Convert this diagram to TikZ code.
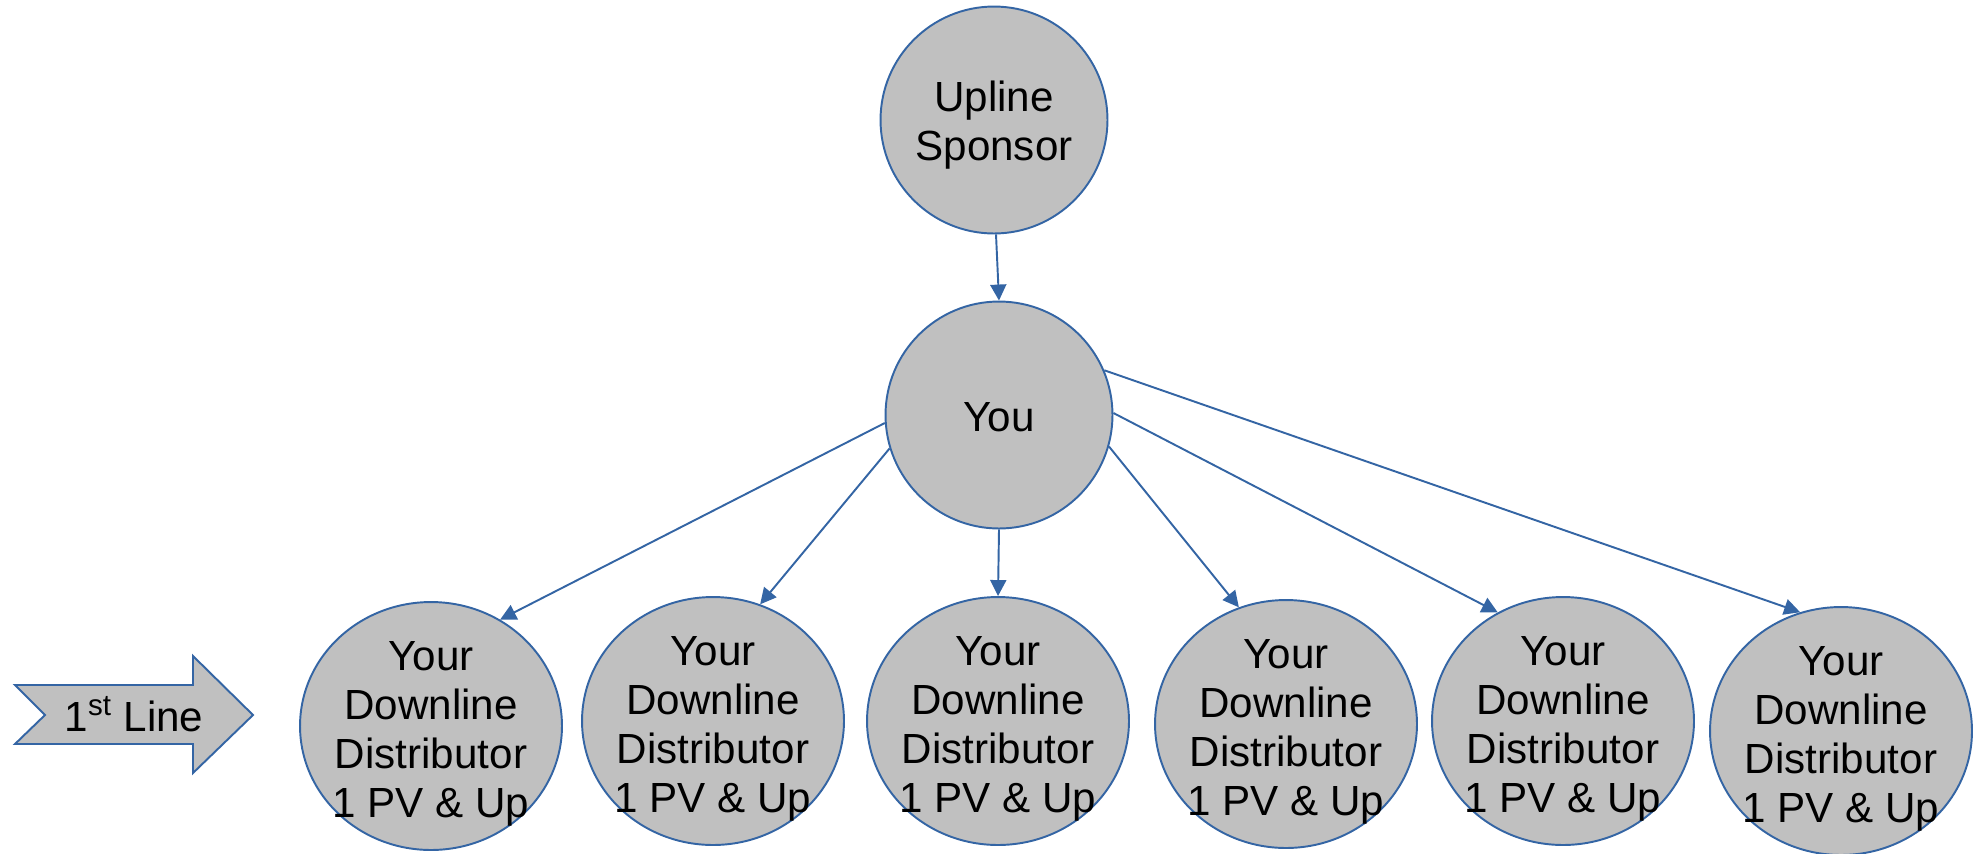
\documentclass[tikz,border=0pt]{standalone}
\usepackage{fontspec}
\setmainfont{Liberation Sans}
\usetikzlibrary{shapes.geometric,arrows.meta}
\definecolor{lineblue}{RGB}{52,101,164}
\definecolor{nodegray}{RGB}{192,192,192}
\tikzset{
  bigtext/.style={font=\fontsize{24}{28}\selectfont, align=center},
  person/.style={circle, draw=lineblue, fill=nodegray, line width=1.1pt,
    minimum size=4.54cm, inner sep=0pt},
  member/.style={ellipse, draw=lineblue, fill=nodegray, line width=1.1pt,
    minimum width=5.24cm, minimum height=4.96cm, inner sep=0pt,
    label={[bigtext,yshift=-0.16cm]center:\downtext}},
  link/.style={draw=lineblue, line width=1.1pt,
    -{Triangle[length=0.32cm,width=0.32cm]}}
}
\newcommand{\downtext}{Your\\Downline\\Distributor\\1 PV \& Up}

\begin{document}
\begin{tikzpicture}[x=0.02cm,y=-0.02cm]
  \useasboundingbox (0,0) rectangle (1980,853);
  % top of the tree
  \node[person, label={[bigtext,yshift=-0.1cm]center:Upline\\Sponsor}]
    (upline) at (994,120) {};
  \node[person, label={[bigtext,yshift=-0.04cm]center:You}] (you) at (999,415) {};
  % first line
  \node[member] (d1) at (431,726) {};
  \node[member] (d2) at (713,721) {};
  \node[member] (d3) at (998,721) {};
  \node[member] (d4) at (1286,724) {};
  \node[member] (d5) at (1563,721) {};
  \node[member] (d6) at (1841,731) {};
  % links
  \draw[link] (upline.271) -- (you.north);
  \draw[link] (you.184.5) -- (d1.57);
  \draw[link] (you.197.5) -- (d2.68);
  \draw[link] (you.south) -- (d3.north);
  \draw[link] (you.344) -- (d4.112);
  \draw[link] (you.1.5) -- (d5.121);
  \draw[link] (you.23.6) -- (d6.109);
  % side arrow
  \draw[lineblue, fill=nodegray, line width=1.1pt] (15,685) -- (193,685)
    -- (193,656) -- (253,715) -- (193,773) -- (193,744) -- (15,744)
    -- (45,715) -- cycle;
  \node[bigtext] (first) at (134,714) {1\textsuperscript{st} Line};
\end{tikzpicture}
\end{document}
